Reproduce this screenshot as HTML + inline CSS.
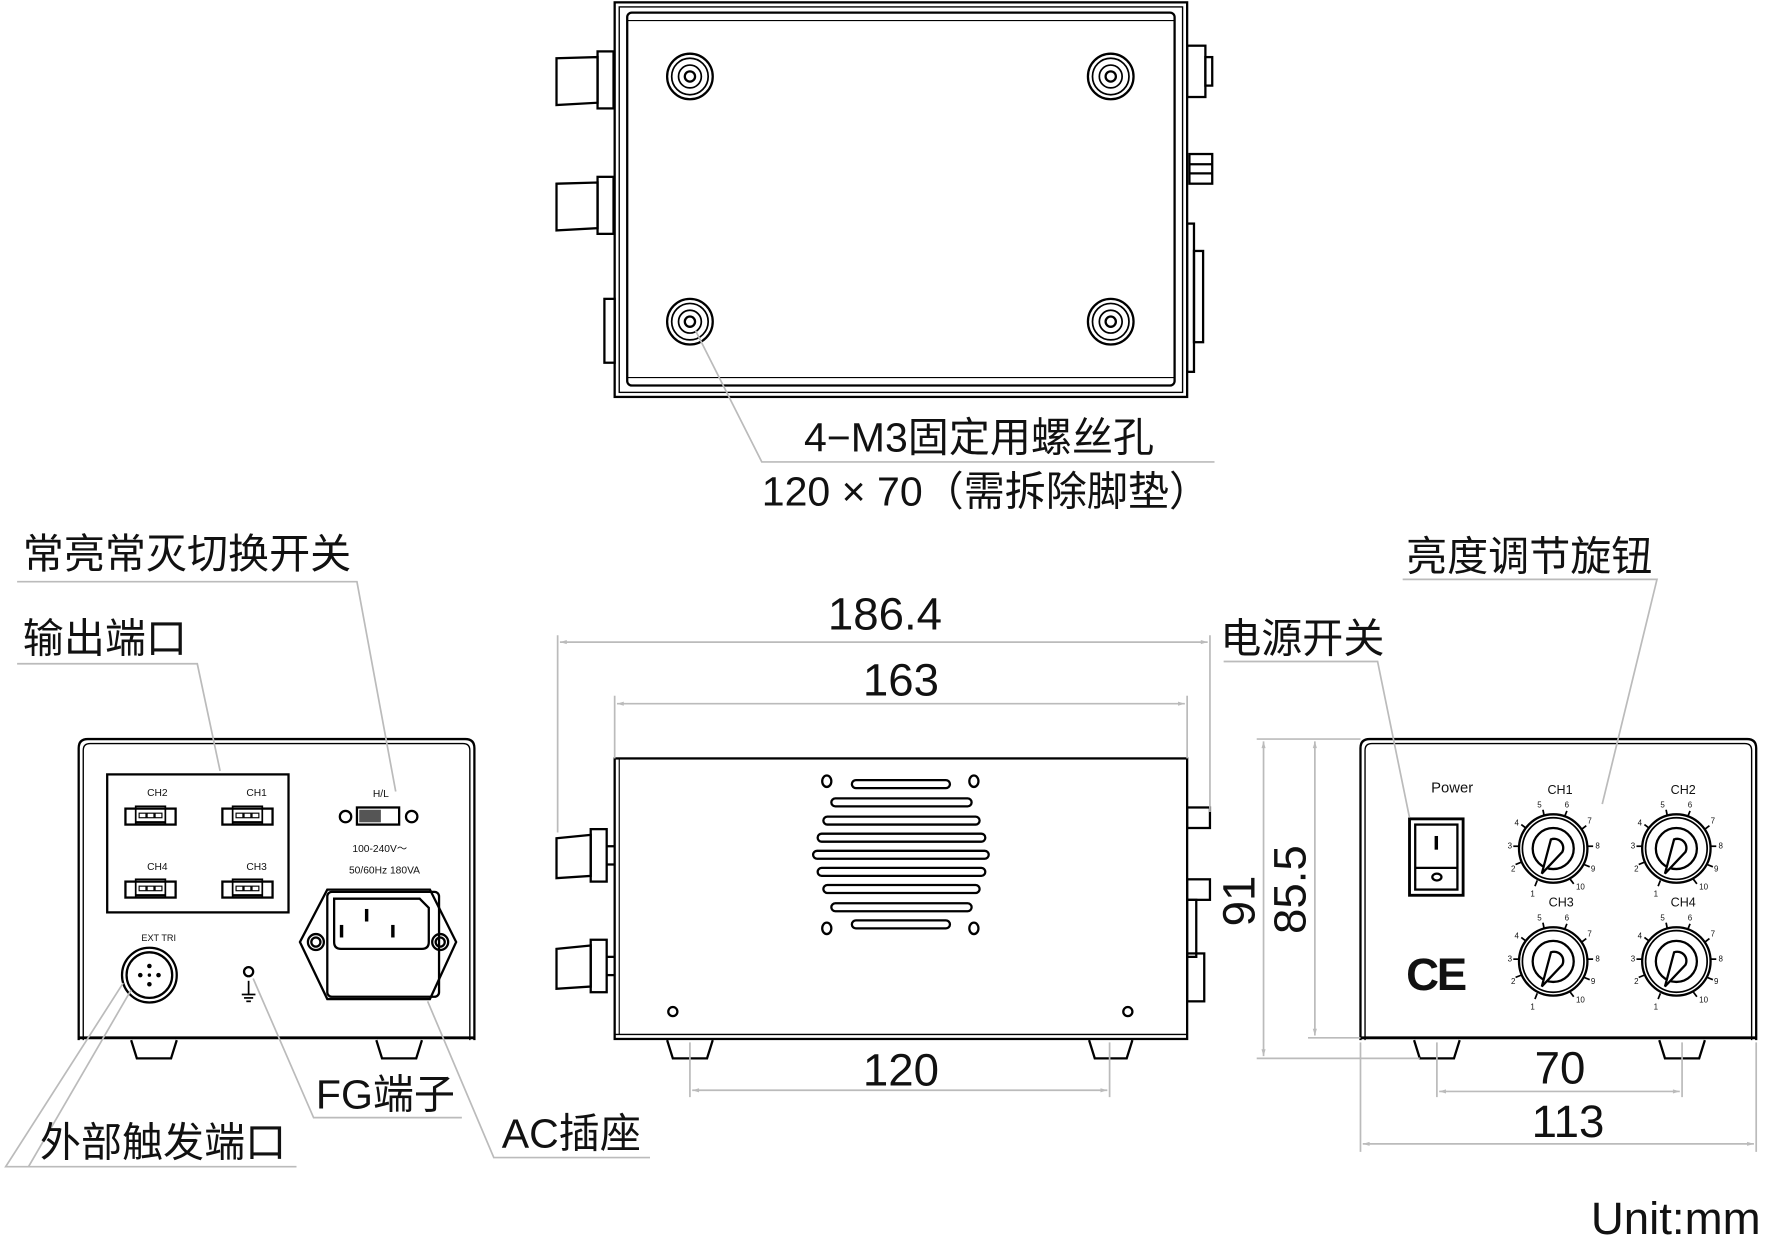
<!DOCTYPE html>
<html><head><meta charset="utf-8"><style>
html,body{margin:0;padding:0;background:#fff;}
svg{display:block;}
text{font-family:"Liberation Sans","Noto Sans CJK SC",sans-serif;fill:#111;}
</style></head><body>
<svg width="1779" height="1258" viewBox="0 0 1560 1103" xmlns="http://www.w3.org/2000/svg">
<defs>
<marker id="ar" viewBox="0 0 10 10" refX="10" refY="5" markerWidth="14" markerHeight="6" orient="auto-start-reverse" markerUnits="userSpaceOnUse"><path d="M0,2 L10,5 L0,8z" fill="#bbb"/></marker>
<g id="conn"><rect x="-22" y="-7" width="44" height="14" fill="none" stroke="#000" stroke-width="2"/><rect x="-13" y="-9" width="26" height="16" fill="none" stroke="#000" stroke-width="1.5"/><rect x="-10" y="-3" width="6" height="4" fill="none" stroke="#000"/><rect x="-3" y="-3" width="6" height="4" fill="none" stroke="#000"/><rect x="4" y="-3" width="6" height="4" fill="none" stroke="#000"/><line x1="-13" y1="5" x2="13" y2="5" stroke="#000" stroke-width="2"/></g>
<g id="knob"><circle r="30" fill="none" stroke="#000" stroke-width="2"/><circle r="27" fill="none" stroke="#000" stroke-width="1.5"/><circle r="18" fill="none" stroke="#000" stroke-width="2"/><path d="M-10,22 L-2,-8 A8,8 0 0 1 8,3 Z" fill="#fff" stroke="#000" stroke-width="2"/>
<g stroke="#000" stroke-width="1.5"><line x1="-14" y1="28" x2="-16" y2="33"/><line x1="-28" y1="12" x2="-33" y2="14"/><line x1="-30" y1="-2" x2="-35" y2="-2"/><line x1="-24" y1="-18" x2="-28" y2="-21"/><line x1="-8" y1="-29" x2="-9" y2="-34"/><line x1="10" y1="-28" x2="12" y2="-33"/><line x1="25" y1="-17" x2="29" y2="-20"/><line x1="30" y1="-2" x2="35" y2="-2"/><line x1="27" y1="14" x2="32" y2="16"/><line x1="15" y1="27" x2="18" y2="31"/></g>
<g font-size="7"><text x="-20" y="42">1</text><text x="-37" y="20">2</text><text x="-40" y="0">3</text><text x="-34" y="-20">4</text><text x="-14" y="-36">5</text><text x="10" y="-36">6</text><text x="30" y="-22">7</text><text x="37" y="0">8</text><text x="33" y="20">9</text><text x="20" y="36">10</text></g></g>
<g id="screw"><circle r="20" fill="none" stroke="#000" stroke-width="2"/><circle r="16" fill="none" stroke="#000" stroke-width="1.5"/><circle r="10" fill="none" stroke="#000" stroke-width="1.5"/><circle r="4.5" fill="none" stroke="#000" stroke-width="2"/></g>
</defs>

<!-- TOP VIEW -->
<g fill="none" stroke="#000" stroke-width="2">
<rect x="539" y="2" width="502" height="346"/>
<rect x="543" y="6" width="494" height="338" stroke-width="1.2"/>
<rect x="550" y="11" width="480" height="327" rx="4"/>
<line x1="550" y1="18" x2="1030" y2="18" stroke-width="1"/>
<line x1="550" y1="331" x2="1030" y2="331" stroke-width="1"/>
<path d="M488,51 L524,50 L524,90 L488,92 Z"/><rect x="524" y="45" width="14" height="50"/>
<path d="M488,161 L524,160 L524,200 L488,202 Z"/><rect x="524" y="155" width="14" height="50"/>
<rect x="530" y="262" width="9" height="56"/>
<rect x="1041" y="40" width="16" height="45"/><rect x="1057" y="50" width="6" height="25"/>
<rect x="1043" y="135" width="20" height="26"/><line x1="1043" y1="144" x2="1063" y2="144"/><line x1="1043" y1="152" x2="1063" y2="152"/>
<rect x="1041" y="196" width="6" height="130"/><rect x="1047" y="220" width="8" height="80"/>
</g>
<use href="#screw" x="605" y="67"/><use href="#screw" x="974" y="67"/><use href="#screw" x="605" y="282"/><use href="#screw" x="974" y="282"/>
<polyline points="610,290 668,405 1065,405" fill="none" stroke="#bbb" stroke-width="1.5"/>
<text x="705" y="396" font-size="36">4−M3固定用螺丝孔</text>
<text x="668" y="443" font-size="36">120 × 70（需拆除脚垫）</text>

<!-- FRONT-LEFT VIEW -->
<g fill="none" stroke="#000" stroke-width="2">
<path d="M69,912 L69,656 Q69,648 77,648 L408,648 Q416,648 416,656 L416,912"/>
<path d="M73,912 L73,658 Q73,652 79,652 L406,652 Q412,652 412,658 L412,912" stroke-width="1.2"/>
<line x1="69" y1="910" x2="416" y2="910" stroke-width="2.5"/>
<path d="M115,912 L120,928 L150,928 L155,912"/><path d="M330,912 L335,928 L365,928 L370,912"/>
<rect x="94" y="679" width="159" height="121"/>
<circle cx="303" cy="716" r="5"/><circle cx="361" cy="716" r="5"/><rect x="313" y="708" width="37" height="15"/>
<path d="M263,826 L287,780 L377,780 L400,826 L377,876 L287,876 Z"/>
<rect x="287" y="782" width="98" height="92" rx="4"/>
<path d="M293,788 L368,788 L376,796 L376,826 Q376,832 370,832 L299,832 Q293,832 293,826 Z"/>
<circle cx="277" cy="826" r="7"/><circle cx="277" cy="826" r="4"/><circle cx="386" cy="826" r="7"/><circle cx="386" cy="826" r="4"/>
<circle cx="131" cy="855" r="24"/><circle cx="131" cy="855" r="20"/>
<circle cx="218" cy="852" r="4"/>
</g>
<rect x="315" y="710" width="19" height="11" fill="#555"/>
<g fill="#000"><rect x="320" y="797" width="3" height="11"/><rect x="343" y="811" width="3" height="11"/><rect x="298" y="811" width="3" height="11"/>
<circle cx="131" cy="847" r="2"/><circle cx="123" cy="855" r="2"/><circle cx="139" cy="855" r="2"/><circle cx="131" cy="863" r="2"/><circle cx="131" cy="855" r="1.5"/></g>
<g stroke="#000" stroke-width="1.5"><line x1="218" y1="860" x2="218" y2="872"/><line x1="212" y1="872" x2="224" y2="872"/><line x1="214" y1="875" x2="222" y2="875"/><line x1="216" y1="878" x2="220" y2="878"/></g>
<use href="#conn" x="132" y="716"/><use href="#conn" x="217" y="716"/><use href="#conn" x="132" y="780"/><use href="#conn" x="217" y="780"/>
<g font-size="9"><text x="129" y="698">CH2</text><text x="216" y="698">CH1</text><text x="129" y="763">CH4</text><text x="216" y="763">CH3</text>
<text x="327" y="699">H/L</text><text x="309" y="747">100-240V～</text><text x="306" y="766">50/60Hz 180VA</text><text x="124" y="825" font-size="8">EXT TRI</text></g>
<g fill="none" stroke="#bbb" stroke-width="1.5">
<polyline points="15,510 313,510 347,694"/>
<polyline points="15,582 173,582 193,676"/>
<polyline points="260,1023 5,1023 108,862"/><line x1="25" y1="1023" x2="115" y2="868"/>
<polyline points="405,980 275,980 222,858"/>
<polyline points="570,1015 433,1015 375,878"/>
</g>
<g font-size="36"><text x="20" y="498">常亮常灭切换开关</text><text x="20" y="572">输出端口</text><text x="35" y="1014">外部触发端口</text><text x="277" y="972">FG端子</text><text x="440" y="1006">AC插座</text></g>

<!-- SIDE VIEW -->
<g fill="none" stroke="#000" stroke-width="2">
<rect x="539" y="665" width="502" height="246"/>
<line x1="539" y1="907" x2="1041" y2="907" stroke-width="1.2"/>
<line x1="543" y1="665" x2="543" y2="907" stroke-width="1"/>
<path d="M585,912 L590,928 L620,928 L625,912"/><path d="M955,912 L960,928 L988,928 L993,912"/>
<path d="M488,735 L518,732 L518,768 L488,770 Z"/><rect x="518" y="727" width="14" height="46"/><line x1="532" y1="742" x2="539" y2="742"/><line x1="532" y1="758" x2="539" y2="758"/>
<path d="M488,832 L518,829 L518,865 L488,867 Z"/><rect x="518" y="824" width="14" height="46"/><line x1="532" y1="839" x2="539" y2="839"/><line x1="532" y1="855" x2="539" y2="855"/>
<rect x="1041" y="708" width="20" height="18"/><rect x="1041" y="771" width="20" height="18"/>
<rect x="1041" y="789" width="8" height="50"/><rect x="1041" y="836" width="15" height="42"/>
<circle cx="590" cy="887" r="4"/><circle cx="989" cy="887" r="4"/>
<ellipse cx="725" cy="685" rx="4" ry="5"/><ellipse cx="854" cy="685" rx="4" ry="5"/><ellipse cx="725" cy="814" rx="4" ry="5"/><ellipse cx="854" cy="814" rx="4" ry="5"/>
<rect x="747" y="684" width="86" height="7" rx="3.5"/>
<rect x="729" y="700" width="123" height="7" rx="3.5"/>
<rect x="722" y="716" width="137" height="7" rx="3.5"/>
<rect x="717" y="731" width="147" height="7" rx="3.5"/>
<rect x="713" y="746" width="154" height="7" rx="3.5"/>
<rect x="717" y="761" width="147" height="7" rx="3.5"/>
<rect x="722" y="776" width="137" height="7" rx="3.5"/>
<rect x="729" y="792" width="123" height="7" rx="3.5"/>
<rect x="747" y="807" width="86" height="7" rx="3.5"/>
</g>

<!-- RIGHT VIEW -->
<g fill="none" stroke="#000" stroke-width="2">
<path d="M1193,912 L1193,656 Q1193,648 1201,648 L1532,648 Q1540,648 1540,656 L1540,912"/>
<path d="M1197,912 L1197,658 Q1197,652 1203,652 L1530,652 Q1536,652 1536,658 L1536,912" stroke-width="1.2"/>
<line x1="1193" y1="910" x2="1540" y2="910" stroke-width="2.5"/>
<path d="M1240,912 L1245,928 L1275,928 L1280,912"/><path d="M1455,912 L1460,928 L1490,928 L1495,912"/>
<rect x="1236" y="718" width="47" height="67" stroke-width="2.5"/><rect x="1241" y="723" width="37" height="57"/><line x1="1241" y1="761" x2="1278" y2="761"/>
</g>
<rect x="1258" y="733" width="3" height="12" fill="#000"/><ellipse cx="1260" cy="769" rx="4" ry="3" fill="none" stroke="#000" stroke-width="2"/>
<text x="1255" y="695" font-size="13">Power</text>
<text x="1233" y="868" font-size="40" font-weight="bold" letter-spacing="-2">CE</text>
<use href="#knob" x="1362" y="744"/><use href="#knob" x="1470" y="744"/><use href="#knob" x="1362" y="843"/><use href="#knob" x="1470" y="843"/>
<g font-size="11"><text x="1357" y="696">CH1</text><text x="1465" y="696">CH2</text><text x="1358" y="795">CH3</text><text x="1465" y="795">CH4</text></g>
<g fill="none" stroke="#bbb" stroke-width="1.5">
<polyline points="1230,508 1453,508 1405,705"/>
<polyline points="1073,580 1208,580 1236,717"/>
</g>
<g font-size="36"><text x="1233" y="500">亮度调节旋钮</text><text x="1070" y="572">电源开关</text></g>

<!-- DIMENSIONS -->
<g stroke="#bbb" stroke-width="1.5" fill="none">
<line x1="489" y1="557" x2="489" y2="730"/><line x1="1061" y1="557" x2="1061" y2="712"/>
<line x1="491" y1="563" x2="1059" y2="563" marker-start="url(#ar)" marker-end="url(#ar)"/>
<line x1="539" y1="610" x2="539" y2="665"/><line x1="1041" y1="610" x2="1041" y2="665"/>
<line x1="541" y1="617" x2="1039" y2="617" marker-start="url(#ar)" marker-end="url(#ar)"/>
<line x1="605" y1="914" x2="605" y2="962"/><line x1="973" y1="914" x2="973" y2="962"/>
<line x1="607" y1="956" x2="971" y2="956" marker-start="url(#ar)" marker-end="url(#ar)"/>
<line x1="1102" y1="648" x2="1193" y2="648"/><line x1="1147" y1="910" x2="1193" y2="910"/><line x1="1102" y1="928" x2="1245" y2="928"/>
<line x1="1108" y1="650" x2="1108" y2="926" marker-start="url(#ar)" marker-end="url(#ar)"/>
<line x1="1153" y1="650" x2="1153" y2="908" marker-start="url(#ar)" marker-end="url(#ar)"/>
<line x1="1260" y1="914" x2="1260" y2="962"/><line x1="1475" y1="914" x2="1475" y2="962"/>
<line x1="1262" y1="957" x2="1473" y2="957" marker-start="url(#ar)" marker-end="url(#ar)"/>
<line x1="1193" y1="914" x2="1193" y2="1010"/><line x1="1540" y1="914" x2="1540" y2="1010"/>
<line x1="1195" y1="1003" x2="1538" y2="1003" marker-start="url(#ar)" marker-end="url(#ar)"/>
</g>
<g font-size="40" text-anchor="middle">
<text x="776" y="552">186.4</text><text x="790" y="610">163</text><text x="790" y="952">120</text>
<text x="1368" y="950">70</text><text x="1375" y="997">113</text>
<text transform="translate(1100,790) rotate(-90)">91</text>
<text transform="translate(1145,780) rotate(-90)">85.5</text>
</g>
<text x="1395" y="1082" font-size="40" fill="#333">Unit:mm</text>
</svg>
</body></html>
